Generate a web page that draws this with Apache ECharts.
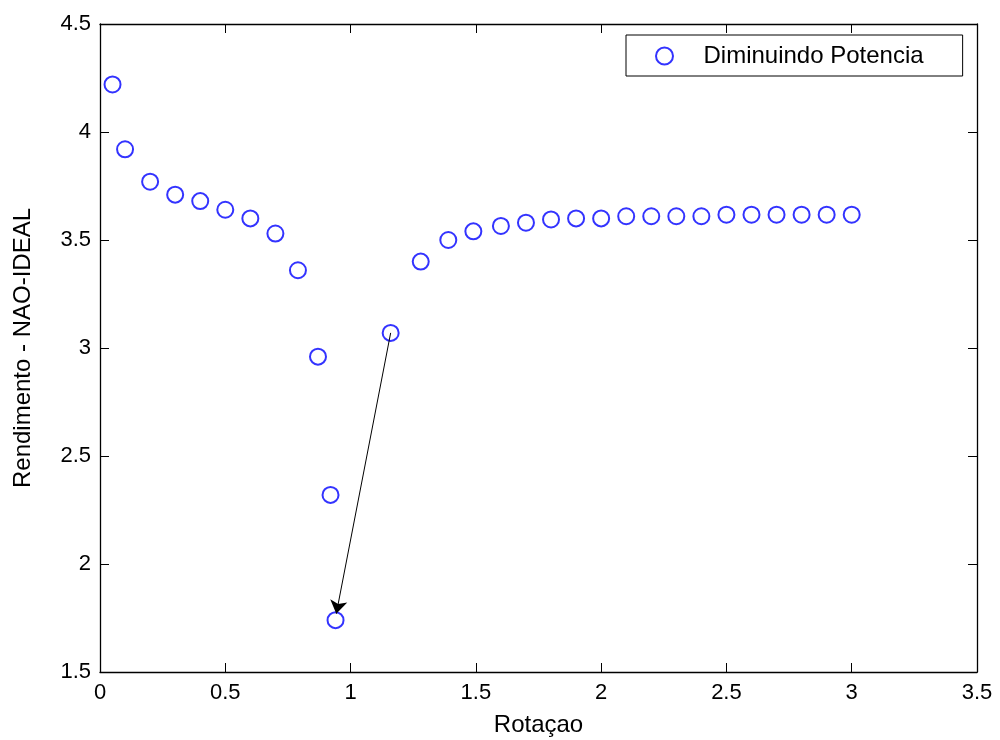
<!DOCTYPE html>
<html>
<head>
<meta charset="utf-8">
<script src="https://cdn.jsdelivr.net/npm/echarts@6/dist/echarts.min.js"></script>
<style>html,body{margin:0;padding:0;background:#fff}#c{width:1000px;height:740px}</style>
</head>
<body>
<div id="c"></div>
<script>
const rotacao = [0.05,0.1,0.2,0.3,0.4,0.5,0.6,0.7,0.79,0.87,0.92,0.94,1.16,1.28,1.39,1.49,1.6,1.7,1.8,1.9,2.0,2.1,2.2,2.3,2.4,2.5,2.6,2.7,2.8,2.9,3.0];
const rendimento = [4.22,3.92,3.77,3.71,3.68,3.64,3.60,3.53,3.36,2.96,2.32,1.74,3.07,3.40,3.50,3.54,3.565,3.58,3.595,3.60,3.60,3.61,3.61,3.61,3.61,3.617,3.617,3.617,3.617,3.617,3.617];
const arrowFrom = [1.16, 3.07];
const arrowTo = [0.943, 1.77];
const seriesName = 'Diminuindo Potencia';
const xName = 'Rotaçao';
const yName = 'Rendimento - NAO-IDEAL';

const FONT = '"Liberation Sans", Arial, sans-serif';
const chart = echarts.init(document.getElementById('c'));
const axisCommon = {
  axisLine: {show: true, onZero: false, lineStyle: {color: '#000', width: 1.3}},
  axisTick: {show: true, inside: true, length: 9, lineStyle: {color: '#000', width: 1}},
  splitLine: {show: false}
};
chart.setOption({
  animation: false,
  backgroundColor: '#fff',
  textStyle: {fontFamily: FONT},
  grid: {left: 100, right: 23, top: 24, bottom: 68, containLabel: false, outerBoundsMode: 'none'},
  legend: {
    data: [seriesName],
    left: 626, top: 35,
    orient: 'horizontal',
    icon: 'emptyCircle',
    itemWidth: 68, itemHeight: 17,
    padding: [9, 39, 8, 29],
    borderColor: '#000', borderWidth: 1,
    backgroundColor: '#fff',
    textStyle: {fontFamily: FONT, fontSize: 24, color: '#000'},
    selectedMode: false
  },
  xAxis: [
    Object.assign({type: 'value', position: 'bottom', min: 0, max: 3.5, interval: 0.5,
      name: xName, nameLocation: 'middle', nameGap: 41,
      nameTextStyle: {fontFamily: FONT, fontSize: 24, color: '#000'},
      axisLabel: {fontFamily: FONT, fontSize: 22, color: '#000', margin: 10}}, axisCommon),
    Object.assign({type: 'value', position: 'top', min: 0, max: 3.5, interval: 0.5,
      axisLabel: {show: false}}, axisCommon)
  ],
  yAxis: [
    Object.assign({type: 'value', position: 'left', min: 1.5, max: 4.5, interval: 0.5,
      name: yName, nameLocation: 'middle', nameGap: 65,
      nameTextStyle: {fontFamily: FONT, fontSize: 24, color: '#000'},
      axisLabel: {fontFamily: FONT, fontSize: 22, color: '#000', margin: 9}}, axisCommon),
    Object.assign({type: 'value', position: 'right', min: 1.5, max: 4.5, interval: 0.5,
      axisLabel: {show: false}}, axisCommon)
  ],
  series: [{
    name: seriesName,
    type: 'scatter',
    xAxisIndex: 0, yAxisIndex: 0,
    symbol: 'emptyCircle',
    symbolSize: 16,
    itemStyle: {color: '#0000ff', borderColor: '#0000ff', borderWidth: 1.3},
    data: rotacao.map((x, i) => [x, rendimento[i]]),
    markLine: {
      silent: true,
      symbol: ['none', 'arrow'],
      symbolSize: 13,
      lineStyle: {color: '#000', width: 1, type: 'solid'},
      label: {show: false},
      data: [[{coord: arrowFrom}, {coord: arrowTo}]]
    }
  }]
});
</script>
</body>
</html>
